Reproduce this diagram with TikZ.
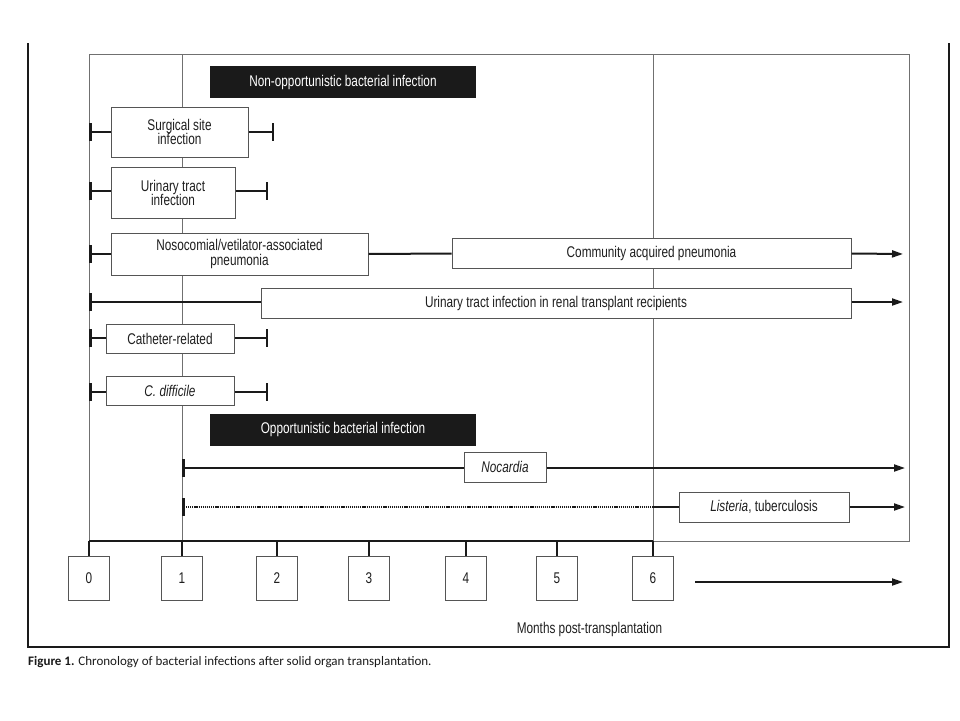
\documentclass[tikz,border=0pt]{standalone}
\usepackage{fontspec}
\setmainfont{Liberation Sans}[FakeStretch=0.76]
\newfontfamily\capfont{Carlito}
\usetikzlibrary{arrows.meta}
\definecolor{txt}{HTML}{1F1F1F}
\definecolor{frm}{HTML}{707070}
\definecolor{bx}{HTML}{555555}
\definecolor{ink}{HTML}{1A1A1A}
\tikzset{
  barA/.tip={Bar[width=18pt,line width=2.5pt]},
  arrA/.tip={Triangle[length=11pt,width=7pt]},
}
\begin{document}
\begin{tikzpicture}[x=1pt,y=-1pt,
  lbl/.style={draw=bx, line width=1pt, fill=white, text=txt, inner sep=0pt, align=center,
    font=\fontsize{15.5}{14.6}\selectfont},
  hdr/.style={fill=ink, text=white, inner sep=0pt, font=\fontsize{15.5}{15}\selectfont,
    minimum width=266pt, minimum height=32pt},
  span/.style={draw=ink, line width=2pt},
  dotspan/.style={draw=ink, line width=2pt, dash pattern=on 1.2pt off 0.9pt},
  thinframe/.style={draw=frm, line width=1pt},
  outerframe/.style={draw=ink, line width=1.2pt},
  tickbox/.style={lbl, minimum width=41pt, minimum height=44pt, anchor=north},
]
\useasboundingbox (0,0) rectangle (960,720);
% frames
\draw[outerframe] (28,43) -- (28,647) -- (949,647) -- (949,43);
\draw[thinframe] (89,54) rectangle (909,541);
\draw[thinframe] (182,54) -- (182,541);
\draw[thinframe] (653,54) -- (653,541);

% headers
\node[hdr] (h1) at (343,82) {Non-opportunistic bacterial infection};
\node[hdr] (h2) at (343,429.5) {Opportunistic bacterial infection};

% row 1 surgical site
\coordinate (r1L) at (89,132);
\coordinate (r1R) at (274,132);
\node[lbl, minimum width=137pt, minimum height=50pt] (surg) at (179.5,132) {Surgical site\\infection};
\draw[span, barA-] (r1L) -- (surg.west);
\draw[span, -barA] (surg.east) -- (r1R);

% row 2 urinary tract
\coordinate (r2L) at (89,191);
\coordinate (r2R) at (268,191);
\node[lbl, minimum width=124pt, minimum height=51pt] (uti) at (173,193) {Urinary tract\\infection};
\draw[span, barA-] (r2L) -- (uti.west |- r2L);
\draw[span, -barA] (uti.east |- r2R) -- (r2R);

% row 3 nosocomial + community
\coordinate (r3L) at (89,254);
\coordinate (r3R) at (903,254);
\node[lbl, minimum width=257pt, minimum height=42pt] (noso) at (239.5,254) {Nosocomial/vetilator-associated\\pneumonia};
\node[lbl, minimum width=399pt, minimum height=30pt] (cap) at (651.5,253.5) {Community acquired pneumonia};
\draw[span, barA-] (r3L) -- (noso.west);
\draw[span] (noso.east) -- (cap.west);
\draw[span, -arrA] (cap.east) -- (r3R);

% row 4 UTI renal
\coordinate (r4L) at (89,302);
\coordinate (r4R) at (903,302);
\node[lbl, minimum width=590pt, minimum height=30pt] (utir) at (556,303) {Urinary tract infection in renal transplant recipients};
\draw[span, barA-] (r4L) -- (utir.west |- r4L);
\draw[span, -arrA] (utir.east |- r4R) -- (r4R);

% row 5 catheter
\coordinate (r5L) at (89,338);
\coordinate (r5R) at (268,338);
\node[lbl, minimum width=128pt, minimum height=29pt] (cath) at (170,338.5) {Catheter-related};
\draw[span, barA-] (r5L) -- (cath.west |- r5L);
\draw[span, -barA] (cath.east |- r5R) -- (r5R);

% row 6 C. difficile
\coordinate (r6L) at (89,392);
\coordinate (r6R) at (268,392);
\node[lbl, minimum width=128pt, minimum height=29pt] (cdif) at (170,391) {\itshape C. difficile};
\draw[span, barA-] (r6L) -- (cdif.west |- r6L);
\draw[span, -barA] (cdif.east |- r6R) -- (r6R);

% row 7 Nocardia
\coordinate (r7L) at (182,468);
\coordinate (r7R) at (905,468);
\node[lbl, minimum width=82pt, minimum height=30pt] (noc) at (505,467) {\itshape Nocardia};
\draw[span, barA-] (r7L) -- (noc.west |- r7L);
\draw[span, -arrA] (noc.east |- r7R) -- (r7R);

% row 8 Listeria
\coordinate (r8L) at (182,507);
\coordinate (r8M) at (653,507);
\coordinate (r8R) at (905,507);
\node[lbl, minimum width=170pt, minimum height=30pt] (lis) at (764,507) {\textit{Listeria}, tuberculosis};
\draw[dotspan, barA-] (r8L) -- (r8M);
\draw[span] (r8M) -- (lis.west);
\draw[span, -arrA] (lis.east) -- (r8R);

% axis
\coordinate (a0) at (89,541);
\coordinate (a6) at (653,541);
\draw[span] (a0) -- (a6);
\foreach \n/\x in {0/89,1/182,2/277,3/369,4/466,5/557,6/653}{
  \coordinate (t\n) at (\x,541);
  \node[tickbox] (b\n) at (\x,556) {\n};
  \draw[span] (t\n) -- (b\n.north);
}
\coordinate (ax1) at (695,582);
\coordinate (ax2) at (903,582);
\draw[span, -arrA] (ax1) -- (ax2);
\node[text=txt, inner sep=0pt, font=\fontsize{15.5}{15}\selectfont] (mpt) at (589.5,629) {Months post-transplantation};

% caption
\node[anchor=base west, inner sep=0pt, text=ink] (capt) at (28,665.7)
  {\capfont\fontsize{13}{15}\selectfont\textbf{Figure 1.} Chronology of bacterial infections after solid organ transplantation.};
\end{tikzpicture}
\end{document}
